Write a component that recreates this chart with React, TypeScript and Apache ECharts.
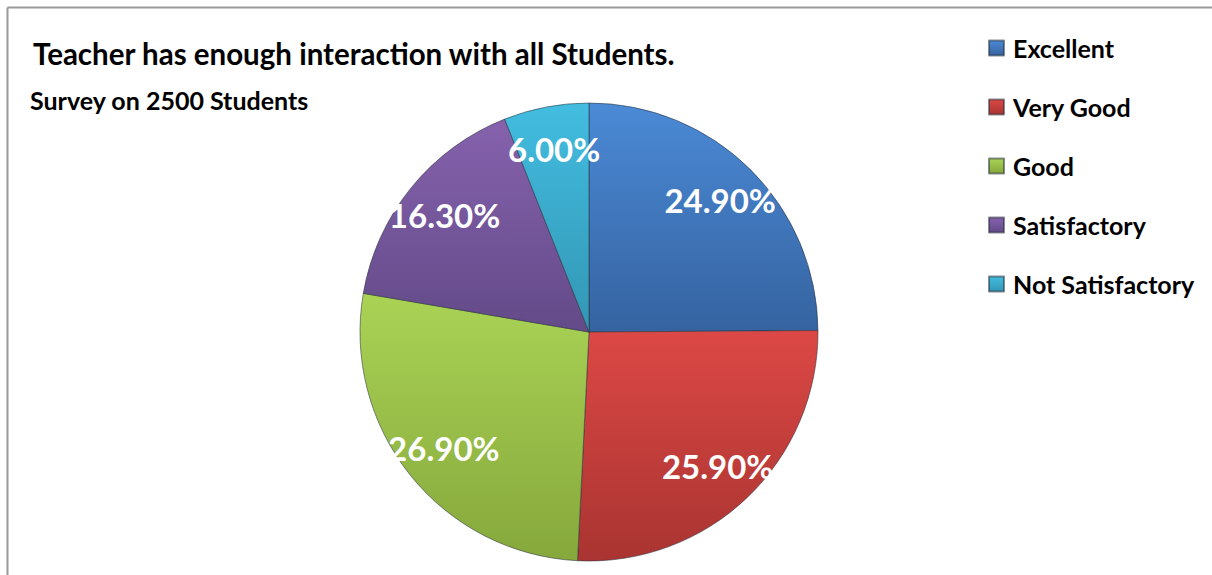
import React, { useEffect, useRef } from "react";
import * as echarts from "echarts";

const categories = ["Excellent", "Very Good", "Good", "Satisfactory", "Not Satisfactory"];
const values = [24.9, 25.9, 26.9, 16.3, 6.0];
const topColors = ["#4b8ad6", "#dc4845", "#aad355", "#8662ad", "#42bde0"];
const bottomColors = ["#3563a0", "#a93431", "#86a83c", "#634a88", "#3396b4"];
const titleText = "Teacher has enough interaction with all Students.";
const subtitleText = "Survey on 2500 Students";

const FONT = "Lato, 'Open Sans', sans-serif";

export default function App() {
  const ref = useRef<HTMLDivElement>(null);
  useEffect(() => {
    if (!ref.current) return;
    const chart = echarts.init(ref.current, undefined, { renderer: "svg" });
    const grad = (i: number) =>
      new echarts.graphic.LinearGradient(0, 0, 0, 1, [
        { offset: 0, color: topColors[i] },
        { offset: 1, color: bottomColors[i] },
      ]);
    const mainData = categories.map((name, i) => ({
      name,
      value: values[i],
      itemStyle: { color: grad(i) },
    }));
    const labelData = categories.map((name, i) => ({ name, value: values[i] }));
    chart.setOption({
      animation: false,
      backgroundColor: "#ffffff",
      color: topColors,
      title: [
        {
          text: titleText,
          left: 33,
          top: 38,
          padding: 0,
          textStyle: { fontFamily: FONT, fontWeight: "bold", fontSize: 29.5, color: "#000" },
        },
        {
          text: subtitleText,
          left: 30,
          top: 87,
          padding: 0,
          textStyle: { fontFamily: FONT, fontWeight: "bold", fontSize: 25, color: "#000" },
        },
      ],
      legend: {
        orient: "vertical",
        left: 988,
        top: 34,
        padding: 0,
        itemWidth: 15,
        itemHeight: 15,
        itemGap: 31,
        icon: "rect",
        selectedMode: false,
        data: categories,
        textStyle: {
          fontFamily: FONT,
          fontWeight: "bold",
          fontSize: 25,
          lineHeight: 28,
          color: "#000",
          padding: [0, 0, 0, 4],
        },
      },
      graphic: [
        { type: "line", shape: { x1: 7.5, y1: 7.5, x2: 1212, y2: 7.5 }, style: { stroke: "#9a9a9a", lineWidth: 2 } },
        { type: "line", shape: { x1: 7.5, y1: 7.5, x2: 7.5, y2: 575 }, style: { stroke: "#9a9a9a", lineWidth: 2 } },
      ],
      series: [
        {
          type: "pie",
          center: [589, 332],
          radius: [0, 229],
          startAngle: 90,
          clockwise: true,
          silent: true,
          data: mainData,
          label: { show: false },
          labelLine: { show: false },
          itemStyle: { borderColor: "rgba(40,50,60,0.55)", borderWidth: 1 },
        },
        {
          type: "pie",
          center: [589, 332],
          radius: [137, 229],
          startAngle: 90,
          clockwise: true,
          silent: true,
          data: labelData,
          itemStyle: { color: "rgba(0,0,0,0)", borderWidth: 0 },
          labelLine: { show: false },
          label: {
            show: true,
            position: "inside",
            formatter: (p: any) => p.value.toFixed(2) + "%",
            fontFamily: FONT,
            fontWeight: "bold",
            fontSize: 33,
            color: "#ffffff",
          },
        },
      ],
    });
    return () => chart.dispose();
  }, []);
  return (
    <div
      ref={ref}
      style={{ position: "absolute", left: 0, top: 0, width: 1212, height: 575 }}
    />
  );
}
